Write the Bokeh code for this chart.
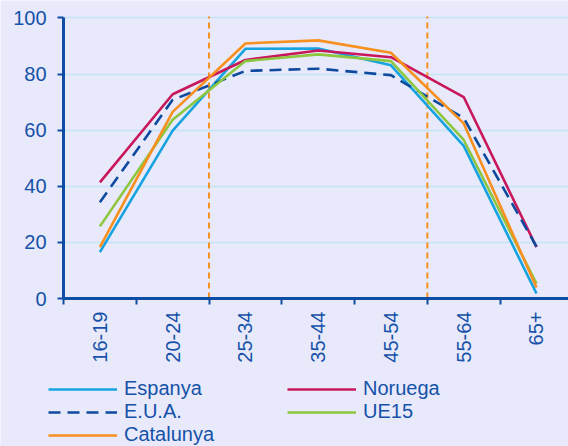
import math
from bokeh.plotting import figure
from bokeh.models import FixedTicker, Legend, LegendItem, Range1d
from bokeh.embed import file_html
from bokeh.resources import INLINE

# ---- data ----
age_groups = ["16-19", "20-24", "25-34", "35-44", "45-54", "55-64", "65+"]
espanya = [16.5, 59.8, 89.0, 89.1, 83.1, 54.4, 1.8]
noruega = [41.4, 72.8, 85.0, 88.4, 86.0, 71.8, 18.3]
eua = [34.3, 70.8, 81.1, 81.9, 79.6, 64.3, 18.5]
ue15 = [25.7, 63.7, 84.6, 87.0, 84.6, 56.5, 5.3]
catalunya = [18.3, 66.5, 90.9, 92.0, 87.6, 62.4, 3.9]
series_names = ["Espanya", "Noruega", "E.U.A.", "UE15", "Catalunya"]
y_ticks = [0, 20, 40, 60, 80, 100]
divider_positions = [1.5, 4.5]  # between 20-24|25-34 and 45-54|55-64

# ---- layout / style ----
X_START, X_END = -1.366, 6.44      # visible x range (axis sits at -0.5)
Y_START, Y_END = -52.74, 106.2     # visible y range (legend lives below 0)
PLOT_TOP = 100.5
BG = "#E8E9FB"
TXT = "#1552A8"
AXIS = "#0E4DA4"
GRID = "#C4E4F6"
FONT = "Liberation Sans"
colors = {"Espanya": "#16A3E0", "Noruega": "#C8175B", "E.U.A.": "#0E4A9E",
          "UE15": "#8DC63F", "Catalunya": "#F7901E"}
dashes = {n: ("12 7" if n == "E.U.A." else "solid") for n in series_names}

xs = list(range(len(age_groups)))
x_lo = xs[0] - 0.5

p = figure(width=568, height=446, output_backend="svg", toolbar_location=None,
           x_range=Range1d(X_START, X_END), y_range=Range1d(Y_START, Y_END),
           min_border_left=0, min_border_right=0, min_border_top=0,
           min_border_bottom=0)
p.background_fill_color = BG
p.border_fill_color = BG
p.outline_line_color = None

# grid
p.xgrid.grid_line_color = None
p.ygrid.ticker = FixedTicker(ticks=y_ticks[1:])
p.ygrid.grid_line_color = GRID
p.ygrid.grid_line_width = 1.5
p.ygrid.bounds = (y_ticks[0], y_ticks[-1])
if "cross_bounds" in p.ygrid[0].properties():
    p.ygrid.cross_bounds = (x_lo, X_END)
else:
    p.ygrid.grid_line_color = None
    p.segment(x0=[x_lo] * len(y_ticks[1:]), x1=[X_END] * len(y_ticks[1:]),
              y0=y_ticks[1:], y1=y_ticks[1:], line_color=GRID, line_width=1.5)

# divider lines
p.segment(x0=divider_positions, x1=divider_positions,
          y0=[y_ticks[0]] * len(divider_positions),
          y1=[PLOT_TOP] * len(divider_positions),
          line_color="#F7901E", line_width=2, line_dash="6 4")

data = {"Espanya": espanya, "Noruega": noruega, "E.U.A.": eua,
        "UE15": ue15, "Catalunya": catalunya}
renderers = {}
for name in series_names:
    renderers[name] = p.line(xs, data[name], line_color=colors[name],
                             line_width=2.6, line_dash=dashes[name])

# axes
p.xaxis.fixed_location = y_ticks[0]
p.xaxis.bounds = (x_lo, X_END)
p.xaxis.ticker = FixedTicker(ticks=xs, minor_ticks=[x - 0.5 for x in xs] + [len(xs) - 0.5])
p.xaxis.major_label_overrides = {i: g for i, g in enumerate(age_groups)}
p.xaxis.major_tick_line_color = None
p.xaxis.minor_tick_line_color = AXIS
p.xaxis.minor_tick_line_width = 2
p.xaxis.minor_tick_out = 6
p.xaxis.minor_tick_in = 0
p.xaxis.major_tick_out = 6
p.xaxis.major_label_orientation = math.pi / 2
p.xaxis.major_label_standoff = 7

p.yaxis.fixed_location = x_lo
p.yaxis.bounds = (y_ticks[0], y_ticks[-1])
p.yaxis.ticker = FixedTicker(ticks=y_ticks)
p.yaxis.major_tick_line_color = AXIS
p.yaxis.major_tick_line_width = 2
p.yaxis.major_tick_out = 6
p.yaxis.major_tick_in = 0
p.yaxis.minor_tick_line_color = None
p.yaxis.major_label_standoff = 11

for ax in (p.xaxis, p.yaxis):
    ax.axis_line_color = AXIS
    ax.axis_line_width = 3
    ax.major_label_text_color = TXT
    ax.major_label_text_font = FONT
    ax.major_label_text_font_size = "20px"

# legend (column-major fill: col 1 = Espanya, E.U.A., Catalunya)
legend_order = ["Espanya", "E.U.A.", "Catalunya", "Noruega", "UE15"]
legend = Legend(items=[LegendItem(label=n, renderers=[renderers[n]]) for n in legend_order],
                location=(48, 0), ncols=2,
                background_fill_alpha=0, border_line_color=None,
                margin=0, padding=0, spacing=0,
                glyph_width=69, glyph_height=22, label_height=22,
                label_width=163, label_standoff=7,
                label_text_font=FONT, label_text_font_size="20px",
                label_text_color=TXT)
p.add_layout(legend, "center")

open("out.html", "w").write(file_html(p, INLINE))
